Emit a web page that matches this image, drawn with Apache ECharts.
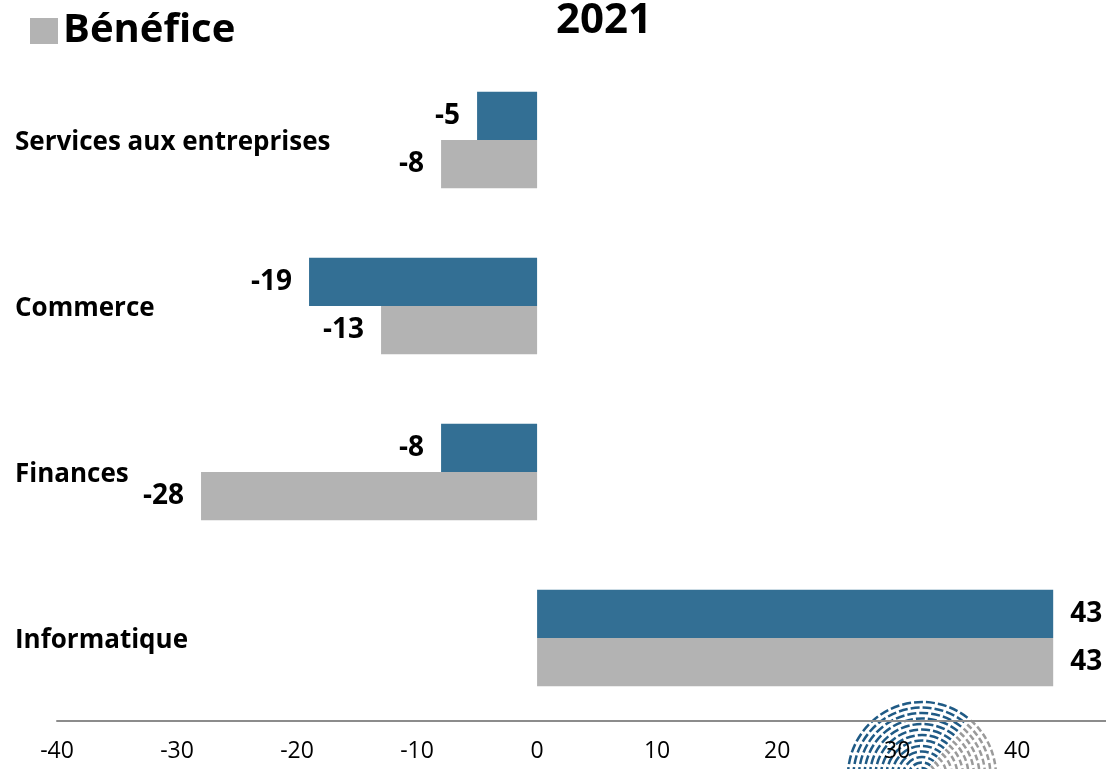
<!DOCTYPE html>
<html><head><meta charset="utf-8">
<script src="https://cdn.jsdelivr.net/npm/echarts@6/dist/echarts.min.js"></script>
<style>html,body{margin:0;padding:0;background:#fff}#c{width:1106px;height:769px}</style>
</head><body><div id="c"></div>
<script>
const categories = ["Services aux entreprises", "Commerce", "Finances", "Informatique"];
const blueValues = [-5, -19, -8, 43];
const greyValues = [-8, -13, -28, 43];
const xTicks = [-40, -30, -20, -10, 0, 10, 20, 30, 40];
const legendName = "Bénéfice";
const titleText = "2021";

const FONT = "'Open Sans', Lato, sans-serif";
function withLabels(vals) {
  return vals.map(v => ({
    value: v,
    label: { position: v < 0 ? 'left' : 'right' }
  }));
}
const labelStyle = { show: true, fontFamily: FONT, fontWeight: 'bold', fontSize: 28, color: '#000', distance: 17 };

// decorative fingerprint-like watermark
const fp = [];
const cx = 922, cy = 776;
for (let r = 8; r <= 78; r += 5.5) {
  fp.push({ type: 'arc', silent: true, z: -1,
    shape: { cx, cy, r, startAngle: Math.PI, endAngle: 2 * Math.PI - 0.9, clockwise: true },
    style: { stroke: '#1f5a85', lineWidth: 2.5, fill: null, lineDash: [9, 3] } });
  fp.push({ type: 'arc', silent: true, z: -1,
    shape: { cx, cy, r, startAngle: 2 * Math.PI - 0.85, endAngle: 2 * Math.PI, clockwise: true },
    style: { stroke: '#9a9a9a', lineWidth: 2.5, fill: null, lineDash: [6, 3] } });
}

const chart = echarts.init(document.getElementById('c'));
chart.setOption({
  animation: false,
  backgroundColor: '#fff',
  title: { text: titleText, left: 599, top: -5, textAlign: 'center',
    textStyle: { fontFamily: FONT, fontWeight: 'bold', fontSize: 42, color: '#000' } },
  legend: { data: [legendName], left: 25, top: 6, itemWidth: 28, itemHeight: 26, itemGap: 12,
    icon: 'rect',
    textStyle: { fontFamily: FONT, fontWeight: 'bold', fontSize: 40, color: '#000' } },
  graphic: fp,
  grid: { left: 57, right: 0, top: 57, bottom: 48, containLabel: false },
  xAxis: {
    type: 'value', min: xTicks[0], max: 47.4, interval: 10,
    axisLine: { show: true, onZero: false, lineStyle: { color: '#8c8c8c', width: 2 } },
    axisTick: { show: false },
    splitLine: { show: false },
    axisLabel: { fontFamily: FONT, fontSize: 23, color: '#000', margin: 19,
      customValues: xTicks }
  },
  yAxis: {
    type: 'category', data: categories, inverse: true,
    axisLine: { show: false }, axisTick: { show: false },
    axisLabel: { align: 'left', margin: 42,
      formatter: '{a|{value}}',
      rich: { a: { fontFamily: FONT, fontWeight: 'bold', fontSize: 26, color: '#000', padding: [6, 0, 0, 0] } } }
  },
  series: [
    { name: 'Bleu', type: 'bar', data: withLabels(blueValues), itemStyle: { color: '#336f94' },
      barGap: '0%', barCategoryGap: '42%', label: labelStyle },
    { name: legendName, type: 'bar', data: withLabels(greyValues), itemStyle: { color: '#b3b3b3' },
      barGap: '0%', barCategoryGap: '42%', label: labelStyle }
  ]
});
</script></body></html>
